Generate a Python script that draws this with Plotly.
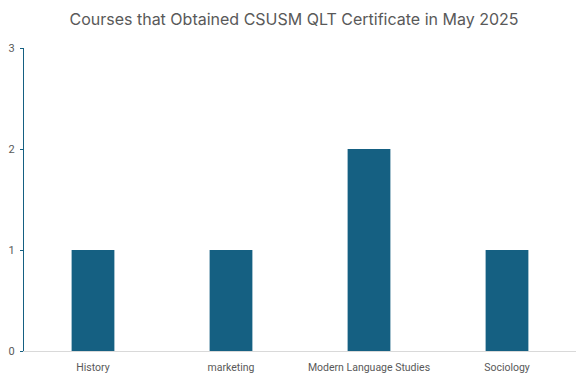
import plotly.graph_objects as go

categories = ["History", "marketing", "Modern Language Studies", "Sociology"]
counts = [1, 1, 2, 1]
y_ticks = [0, 1, 2, 3]

bar_color = "#156082"

fig = go.Figure(go.Bar(
    x=categories, y=counts, marker=dict(color=bar_color, line=dict(width=0)),
    width=0.31,
))

fig.update_layout(
    width=588, height=382,
    margin=dict(l=24, r=12, t=48, b=31),
    paper_bgcolor="white", plot_bgcolor="white",
    showlegend=False,
    title=dict(
        text="Courses that Obtained CSUSM QLT Certificate in May 2025",
        x=0.5, xanchor="center", y=0.948, yanchor="middle",
        font=dict(family="Inter, Open Sans, sans-serif", size=16, color="#595959"),
    ),
    font=dict(family="Liberation Sans Narrow, Roboto, sans-serif", color="#595959", size=11),
)

fig.update_xaxes(
    showgrid=False, showline=True, linecolor="#D9D9D9", linewidth=1,
    ticks="", tickfont=dict(size=10.5, color="#595959"),
    ticklabelstandoff=6, automargin=False,
    zeroline=False,
)
fig.update_yaxes(
    range=[0, 3], tickvals=y_ticks, showgrid=False,
    showline=True, linecolor="#156082", linewidth=1.3,
    ticks="outside", ticklen=3, tickcolor="#156082",
    tickfont=dict(size=11, color="#595959"), zeroline=False,
    ticklabelstandoff=3, automargin=False,
)

fig.write_html("out.html")
